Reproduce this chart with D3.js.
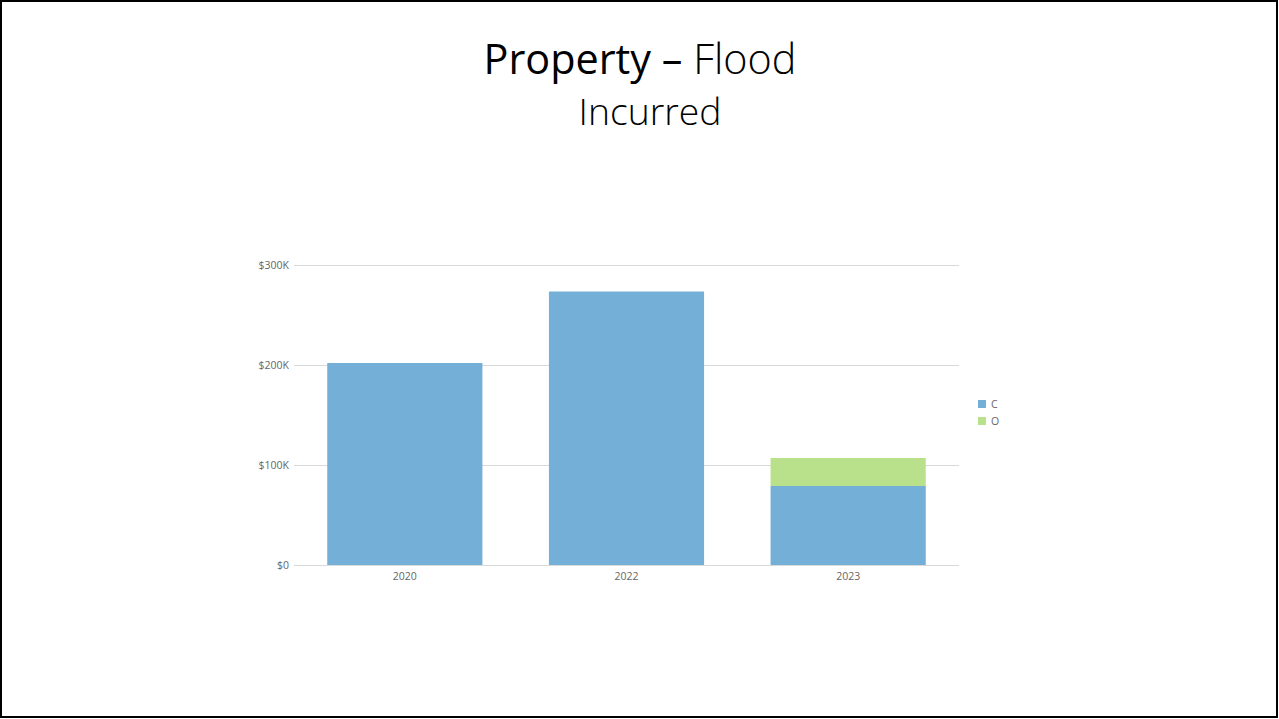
<!DOCTYPE html>
<html>
<head>
<meta charset="utf-8">
<script src="https://cdn.jsdelivr.net/npm/d3@7"></script>
<style>
  html, body { margin: 0; padding: 0; background: #fff; }
  svg { display: block; }
</style>
</head>
<body>
<svg width="1279" height="719"></svg>
<script>
// chart data
var YEARS = ["2020", "2022", "2023"];
var CLOSED = [202000, 273500, 79000];
var OPEN = [0, 0, 28000];
var SERIES = ["C", "O"];
var COLORS = ["#73afd6", "#b9e18c"];
var Y_TICKS = [0, 100000, 200000, 300000];
var Y_TICK_LABELS = ["$0", "$100K", "$200K", "$300K"];

var svg = d3.select("svg"),
  margin = { top: 265, right: 320, bottom: 154, left: 294 },
  width = 1279 - margin.left - margin.right,
  height = 719 - margin.top - margin.bottom;

// slide border
svg.append("rect")
  .attr("x", 1).attr("y", 1)
  .attr("width", 1276).attr("height", 716)
  .attr("fill", "white")
  .attr("stroke", "black")
  .attr("stroke-width", 2);

// Title
var fontFam = "'Open Sans', 'Noto Sans', sans-serif";
var title = svg.append("text")
  .attr("x", 640)
  .attr("y", 74)
  .attr("text-anchor", "middle")
  .style("font-family", fontFam)
  .style("font-size", "40px")
  .attr("fill", "#000");
title.append("tspan").text("Property – ");
title.append("tspan").style("font-weight", 300).text("Flood");
// shrink to match the reference width
var tw = title.node().getComputedTextLength();
title.style("font-size", (40 * 313 / tw) + "px");

var sub = svg.append("text")
  .attr("x", 650)
  .attr("y", 125)
  .attr("text-anchor", "middle")
  .style("font-family", fontFam)
  .style("font-weight", 300)
  .style("font-size", "36px")
  .attr("fill", "#000")
  .text("Incurred");
var sw = sub.node().getComputedTextLength();
sub.style("font-size", (36 * 143 / sw) + "px");

var g = svg.append("g")
  .attr("transform", "translate(" + margin.left + "," + margin.top + ")");

var xScale = d3.scaleBand().domain(YEARS).range([0, width]).paddingInner(0.3).paddingOuter(0.15);
var yScale = d3.scaleLinear().domain([0, 300000]).range([height, 0]);

// gridlines + y labels
var yAxis = d3.axisLeft(yScale)
  .tickValues(Y_TICKS)
  .tickSize(-width)
  .tickPadding(6)
  .tickFormat(function (d, i) { return Y_TICK_LABELS[i]; });

var yg = g.append("g").call(yAxis);
yg.select(".domain").remove();
yg.selectAll(".tick line").attr("stroke", "#d9d9d9").attr("x1", 0);
yg.selectAll(".tick text")
  .attr("x", -5)
  .attr("fill", "#666")
  .style("font-family", fontFam)
  .style("font-size", "10.5px");

// stacked bars
var rows = YEARS.map(function (y, i) { return { year: y, C: CLOSED[i], O: OPEN[i] }; });
var stack = d3.stack().keys(SERIES)(rows);

g.selectAll("g.layer")
  .data(stack)
  .enter()
  .append("g")
  .attr("class", "layer")
  .attr("fill", function (d, i) { return COLORS[i]; })
  .selectAll("rect")
  .data(function (d) { return d; })
  .enter()
  .append("rect")
  .attr("x", function (d) { return xScale(d.data.year); })
  .attr("y", function (d) { return yScale(d[1]); })
  .attr("width", xScale.bandwidth())
  .attr("height", function (d) { return yScale(d[0]) - yScale(d[1]); });

// x axis labels
var xg = g.append("g")
  .attr("transform", "translate(0," + height + ")")
  .call(d3.axisBottom(xScale).tickSize(0).tickPadding(8));
xg.select(".domain").remove();
xg.selectAll(".tick text")
  .attr("fill", "#666")
  .style("font-family", fontFam)
  .style("font-size", "10.5px");

// legend
var legend = svg.append("g").attr("transform", "translate(978,400)");
SERIES.forEach(function (s, i) {
  legend.append("rect")
    .attr("x", 0).attr("y", i * 17)
    .attr("width", 8).attr("height", 8)
    .attr("fill", COLORS[i]);
  legend.append("text")
    .attr("x", 13).attr("y", i * 17 + 8)
    .attr("fill", "#666")
    .style("font-family", fontFam)
    .style("font-size", "10.5px")
    .text(s);
});
</script>
</body>
</html>
